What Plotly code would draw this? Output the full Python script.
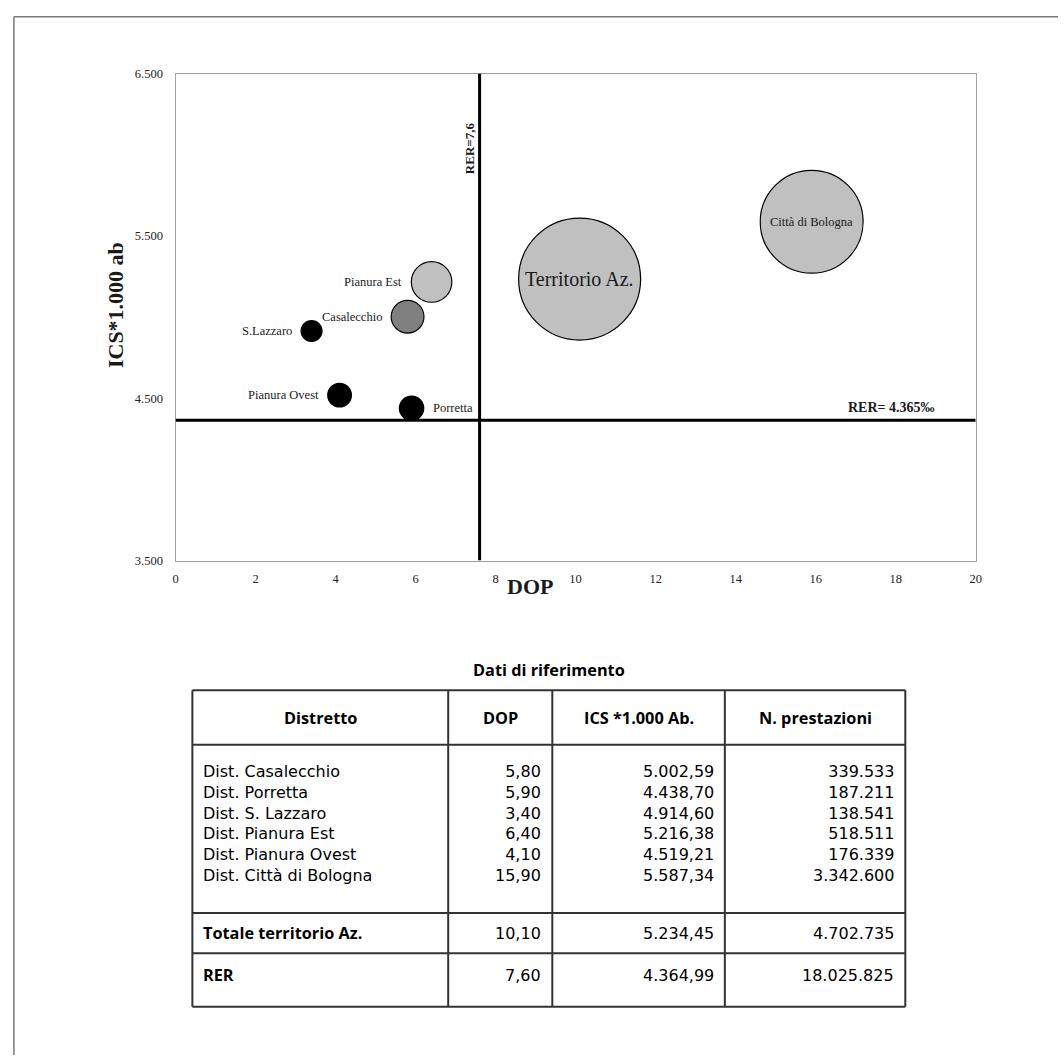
import math
import plotly.graph_objects as go

# ---------------------------------------------------------------------------
# Data: districts of the health authority (DOP vs ICS per 1,000 inhabitants,
# bubble area = number of services provided)
# ---------------------------------------------------------------------------
districts = ["Casalecchio", "Porretta", "S.Lazzaro", "Pianura Est",
             "Pianura Ovest", "Città di Bologna"]
table_names = ["Dist. Casalecchio", "Dist. Porretta", "Dist. S. Lazzaro",
               "Dist. Pianura Est", "Dist. Pianura Ovest",
               "Dist. Città di Bologna"]
dop = [5.80, 5.90, 3.40, 6.40, 4.10, 15.90]
ics = [5002.59, 4438.70, 4914.60, 5216.38, 4519.21, 5587.34]
prestazioni = [339533, 187211, 138541, 518511, 176339, 3342600]

total_name = "Territorio Az."
total_table_name = "Totale territorio Az."
total_dop = 10.10
total_ics = 5234.45
total_prestazioni = 4702735

rer_name = "RER"
rer_dop = 7.60
rer_ics = 4364.99
rer_prestazioni = 18025825

x_ticks = [0, 2, 4, 6, 8, 10, 12, 14, 16, 18, 20]
y_ticks = [3500, 4500, 5500, 6500]

table_title = "Dati di riferimento"
table_headers = ["Distretto", "DOP", "ICS *1.000 Ab.", "N. prestazioni"]

# ---------------------------------------------------------------------------
W, H = 1064, 1062
SERIF = "Liberation Serif"
SANS = "Open Sans"
BODY = "DejaVu Sans"
INK = "#1a1a1a"


def px(x):
    return x / W


def py(y):
    return 1 - y / H


def it_num(v, dec):
    s = f"{v:,.{dec}f}"
    return s.replace(",", "X").replace(".", ",").replace("X", ".")


def note(x, y, text, font, xref="paper", yref="paper", xanchor="center",
         yanchor="middle", **kw):
    if xref == "paper":
        x = px(x)
    if yref == "paper":
        y = py(y)
    return dict(x=x, y=y, xref=xref, yref=yref, text=text, showarrow=False,
                xanchor=xanchor, yanchor=yanchor, font=font, **kw)


# bubble fill per district
fill = {"Casalecchio": "#808080", "Porretta": "#000000", "S.Lazzaro": "#000000",
        "Pianura Est": "#c0c0c0", "Pianura Ovest": "#000000",
        "Città di Bologna": "#c0c0c0"}
# side of the bubble where each district name sits
label_side = {"Casalecchio": "left", "Porretta": "right", "S.Lazzaro": "left",
              "Pianura Est": "left", "Pianura Ovest": "left",
              "Città di Bologna": "center"}

all_x = [total_dop] + dop
all_y = [total_ics] + ics
all_n = [total_prestazioni] + prestazioni
all_fill = ["#c0c0c0"] + [fill[d] for d in districts]

max_diam = 122
sizeref = 2.0 * max(all_n) / max_diam ** 2

fig = go.Figure()
fig.add_trace(go.Scatter(
    x=all_x, y=all_y, mode="markers",
    marker=dict(size=all_n, sizemode="area", sizeref=sizeref,
                color=all_fill, opacity=1,
                line=dict(color="#000000", width=1.2)),
    hoverinfo="skip", showlegend=False,
))

annotations = []
label_font = dict(family=SERIF, size=12.5, color=INK)

# names next to / inside the bubbles
annotations.append(note(total_dop, total_ics, total_name,
                        dict(family=SERIF, size=20, color=INK),
                        xref="x", yref="y"))
for name, x, y, n in zip(districts, dop, ics, prestazioni):
    r = math.sqrt(n / (2 * sizeref))
    side = label_side[name]
    if side == "center":
        annotations.append(note(x, y, name, label_font, xref="x", yref="y"))
    elif side == "left":
        annotations.append(note(x, y, name, label_font, xref="x", yref="y",
                                xanchor="right", xshift=-(r + 7)))
    else:
        annotations.append(note(x, y, name, label_font, xref="x", yref="y",
                                xanchor="left", xshift=r + 7))

# regional reference labels
bold_serif = dict(family=SERIF, color=INK, weight="bold")
annotations.append(note(470, 143, f"RER={it_num(rer_dop, 1)}",
                        dict(bold_serif, size=13), textangle=-90))
annotations.append(note(896, 406, f"RER= {it_num(rer_ics, 0)}‰",
                        dict(bold_serif, size=14)))

# axis titles
annotations.append(note(113, 302, "ICS*1.000 ab", dict(bold_serif, size=22),
                        textangle=-90))
annotations.append(note(531, 587, "DOP", dict(bold_serif, size=22)))

shapes = []
# RER reference lines
shapes.append(dict(type="line", xref="x", yref="y", x0=rer_dop, x1=rer_dop,
                   y0=y_ticks[0], y1=y_ticks[-1],
                   line=dict(color="#000000", width=3)))
shapes.append(dict(type="line", xref="x", yref="y", x0=x_ticks[0], x1=x_ticks[-1],
                   y0=rer_ics, y1=rer_ics,
                   line=dict(color="#000000", width=3)))

# page frame (top and left edges)
frame = dict(color="#7a7a7a", width=1.5)
shapes.append(dict(type="line", xref="paper", yref="paper",
                   x0=px(11), x1=1, y0=py(10), y1=py(10), line=frame))
shapes.append(dict(type="line", xref="paper", yref="paper",
                   x0=px(11), x1=px(11), y0=py(10), y1=0, line=frame))

# ---------------------------------------------------------------------------
# Reference table
# ---------------------------------------------------------------------------
col_x = [191, 449, 554, 728, 910]
row_y = [692.5, 747.5, 918, 959, 1013]
tline = dict(color="#333333", width=2)
for cx in col_x:
    shapes.append(dict(type="line", xref="paper", yref="paper",
                       x0=px(cx), x1=px(cx), y0=py(row_y[0]), y1=py(row_y[-1]),
                       line=tline))
for ry in row_y:
    shapes.append(dict(type="line", xref="paper", yref="paper",
                       x0=px(col_x[0]), x1=px(col_x[-1]), y0=py(ry), y1=py(ry),
                       line=tline))

body_font = dict(family=BODY, size=16, color="#000")
head_font = dict(family=SANS, size=16.3, color="#000", weight="bold")

annotations.append(note((col_x[0] + col_x[-1]) / 2, 672, table_title, head_font))
for i, head in enumerate(table_headers):
    annotations.append(note((col_x[i] + col_x[i + 1]) / 2,
                            (row_y[0] + row_y[1]) / 2, head, head_font))

# district block: one multi-line cell per column
block_y = 775 + 20.8 * (len(table_names) - 1) / 2
annotations.append(note(col_x[0] + 9, block_y, "<br>".join(table_names),
                        body_font, xanchor="left", align="left"))
for k, (vals, dec) in enumerate([(dop, 2), (ics, 2), (prestazioni, 0)]):
    annotations.append(note(col_x[k + 2] - 9, block_y,
                            "<br>".join(it_num(v, dec) for v in vals),
                            body_font, xanchor="right", align="right"))


def summary_row(yc, name, d, c, n):
    annotations.append(note(col_x[0] + 9, yc, name, head_font, xanchor="left"))
    for k, val in enumerate([it_num(d, 2), it_num(c, 2), it_num(n, 0)]):
        annotations.append(note(col_x[k + 2] - 9, yc, val, body_font,
                                xanchor="right"))


summary_row((row_y[2] + row_y[3]) / 2, total_table_name, total_dop, total_ics,
            total_prestazioni)
summary_row(981, rer_name, rer_dop, rer_ics, rer_prestazioni)

tick_font = dict(family=SERIF, size=12.5, color="#222")
fig.update_layout(
    width=W, height=H,
    margin=dict(l=0, r=0, t=0, b=0, pad=0),
    paper_bgcolor="#ffffff", plot_bgcolor="#ffffff",
    separators=",.",
    showlegend=False,
    xaxis=dict(domain=[px(174), px(981)], range=[x_ticks[0], x_ticks[-1]],
               tickvals=x_ticks, showgrid=False, zeroline=False,
               showline=True, mirror=True, linecolor="#a0a0a0", linewidth=1.3,
               ticks="", ticklabelstandoff=6, tickfont=tick_font),
    yaxis=dict(domain=[py(561), py(67.5)], range=[y_ticks[0], y_ticks[-1]],
               tickvals=y_ticks, tickformat=",.0f", showgrid=False,
               zeroline=False, showline=True, mirror=True,
               linecolor="#a0a0a0", linewidth=1.3,
               ticks="", ticklabelstandoff=9, tickfont=tick_font),
    annotations=annotations,
    shapes=shapes,
)

fig.write_html("out.html")
